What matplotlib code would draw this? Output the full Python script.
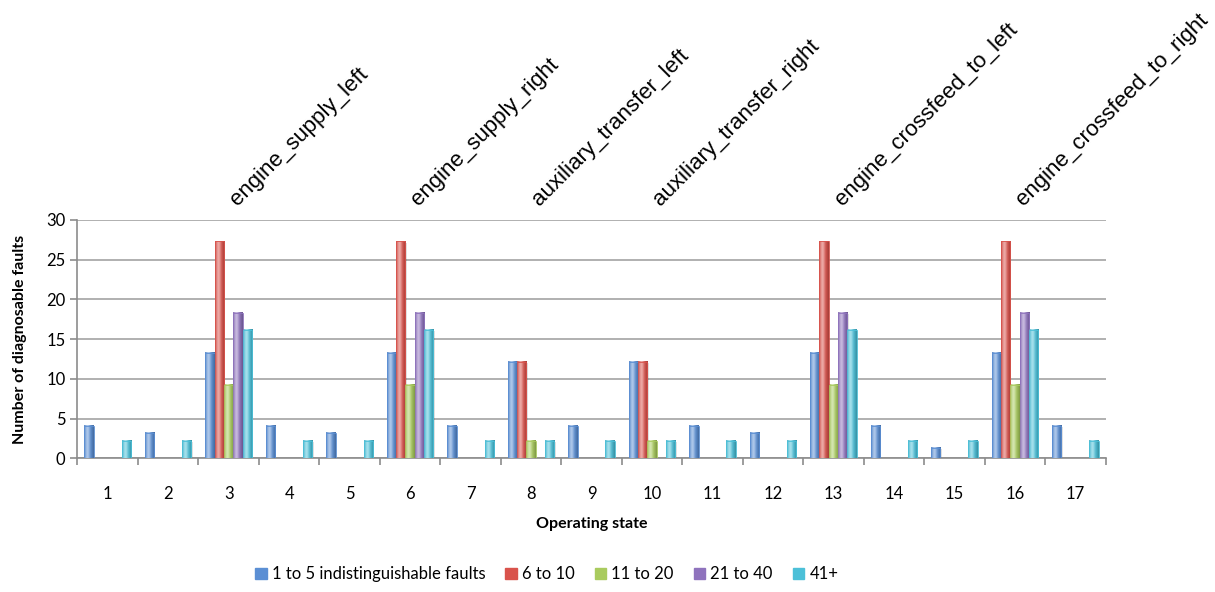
import numpy as np
import matplotlib.pyplot as plt
from matplotlib.patches import Patch
from matplotlib.colors import to_rgb

states = [str(i) for i in range(1, 18)]

# number of diagnosable faults per operating state, one list per ambiguity group size
faults_1_5 = [4.1, 3.2, 13.3, 4.1, 3.2, 13.3, 4.1, 12.1, 4.1, 12.1, 4.1, 3.2, 13.3, 4.1, 1.3, 13.3, 4.1]
faults_6_10 = [0, 0, 27.3, 0, 0, 27.3, 0, 12.1, 0, 12.1, 0, 0, 27.3, 0, 0, 27.3, 0]
faults_11_20 = [0, 0, 9.2, 0, 0, 9.2, 0, 2.2, 0, 2.2, 0, 0, 9.2, 0, 0, 9.2, 0]
faults_21_40 = [0, 0, 18.3, 0, 0, 18.3, 0, 0, 0, 0, 0, 0, 18.3, 0, 0, 18.3, 0]
faults_41 = [2.2, 2.2, 16.2, 2.2, 2.2, 16.2, 2.2, 2.2, 2.2, 2.2, 2.2, 2.2, 16.2, 2.2, 2.2, 16.2, 2.2]

series_names = ["1 to 5 indistinguishable faults", "6 to 10", "11 to 20", "21 to 40", "41+"]
series = [faults_1_5, faults_6_10, faults_11_20, faults_21_40, faults_41]
colors = ["#5b8fd4", "#d9534c", "#a9cb5e", "#8f73bd", "#4cc0d8"]

mode_states = [3, 6, 8, 10, 13, 16]
mode_names = ["engine_supply_left", "engine_supply_right", "auxiliary_transfer_left",
              "auxiliary_transfer_right", "engine_crossfeed_to_left", "engine_crossfeed_to_right"]


def shade(color):
    # horizontal gradient: dark edge, light highlight, dark edge
    c = np.array(to_rgb(color))
    t = np.linspace(0, 1, 40)
    light = 0.5 * np.exp(-((t - 0.35) / 0.25) ** 2)
    dark = 0.25 * (np.abs(t - 0.35) / 0.65) ** 2
    rows = c[None, :] * (1 - dark[:, None]) + (1 - c[None, :]) * light[:, None]
    return np.clip(rows[None, :, :], 0, 1)


fig = plt.figure(figsize=(12.15, 5.92), dpi=100)
ax = fig.add_axes([0.0637, 0.2258, 0.8463, 0.4026])

x = np.arange(1, 18)
w = 0.154
for k, (vals, col) in enumerate(zip(series, colors)):
    img = shade(col)
    for xi, v in zip(x, vals):
        if v <= 0:
            continue
        x0 = xi + (k - 2) * w - w / 2
        # soft shadow to the right
        ax.bar(x0 + w / 2 + 0.02, v, width=w, bottom=-0.15, color="#000000", alpha=0.12,
               linewidth=0, zorder=2)
        ax.imshow(img, extent=[x0, x0 + w, 0, v], aspect="auto", zorder=3, interpolation="bilinear")
        ax.bar(x0 + w / 2, v, width=w, fill=False, edgecolor=col, linewidth=0.6, zorder=4)

ax.set_xlim(0.5, 17.5)
ax.set_ylim(0, 30)
ax.set_aspect("auto")
ax.set_yticks(range(0, 31, 5))
ax.yaxis.grid(True, color="#a3a3a3", linewidth=1.2, zorder=0)
ax.set_axisbelow(True)

ax.set_xticks(x)
ax.set_xticklabels(states)
ax.set_xticks(np.arange(0.5, 18, 1), minor=True)
ax.tick_params(axis="x", which="major", length=0, pad=20, labelsize=12)
ax.tick_params(axis="x", which="minor", length=5, color="#8c8c8c", width=1.2)
ax.tick_params(axis="y", length=5, color="#8c8c8c", width=1.2, labelsize=12)
for lab in ax.get_xticklabels() + ax.get_yticklabels():
    lab.set_fontfamily("Lato")

for s in ["top", "right"]:
    ax.spines[s].set_visible(False)
for s in ["left", "bottom"]:
    ax.spines[s].set_color("#8c8c8c")
    ax.spines[s].set_linewidth(1.2)

ax.set_xlabel("Operating state", fontfamily="Lato", fontweight="bold", fontsize=11.5, labelpad=11)
ax.set_ylabel("Number of diagnosable faults", fontfamily="Lato", fontweight="bold", fontsize=11.5, labelpad=14)

for st, name in zip(mode_states, mode_names):
    ax.text(st + 0.2, 31.2, name, rotation=45, rotation_mode="anchor", ha="left", va="bottom",
            fontfamily="Liberation Sans", fontsize=16, clip_on=False)

handles = [Patch(facecolor=c, edgecolor=c) for c in colors]
fig.legend(handles, series_names, loc="center", bbox_to_anchor=(0.45, 0.03), ncol=5,
           frameon=False, prop={"family": "Lato", "size": 12}, handlelength=0.7,
           handleheight=0.7, handletextpad=0.3, columnspacing=1.2)

fig.savefig("out.png", dpi=100)
